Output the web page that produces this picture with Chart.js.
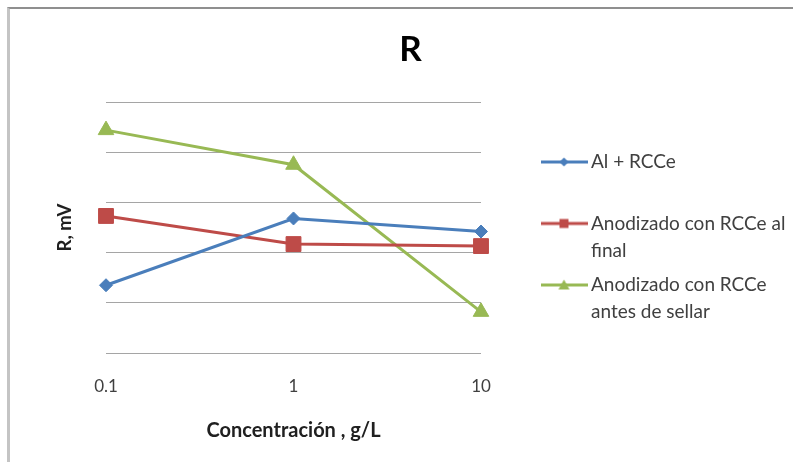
<!DOCTYPE html>
<html><head><meta charset="utf-8">
<script src="https://cdn.jsdelivr.net/npm/chart.js@4"></script>
<style>
html,body{margin:0;padding:0;background:#fff;}
#wrap{position:relative;width:793px;height:462px;overflow:hidden;background:#fff;}
#frame{position:absolute;left:7px;top:7px;width:800px;height:470px;border-top:2px solid #8f8f8f;border-left:3px solid #c4c4c4;pointer-events:none;box-sizing:border-box;}
canvas{display:block}
</style></head><body>
<div id="wrap"><canvas id="c" width="793" height="462"></canvas><div id="frame"></div></div>
<script>
// ---- data ----
const categories = ['0.1', '1', '10'];
const seriesNames = ['Al + RCCe', 'Anodizado con RCCe al final', 'Anodizado con RCCe antes de sellar'];
const legendLabels = [['Al + RCCe', ''], ['Anodizado con RCCe al', 'final'], ['Anodizado con RCCe', 'antes de sellar']];
const alRCCe = [1.35, 2.68, 2.42];
const anodizadoFinal = [2.73, 2.17, 2.13];
const anodizadoAntes = [4.44, 3.75, 0.82];
const chartTitle = 'R';
const xTitle = 'Concentración , g/L';
const yTitle = 'R, mV';

// ---- styles ----
const colors = ['#4a7ebb', '#be4b48', '#98b954'];
const FONT = 'Lato';
const LEG_SIZE = 19, LEG_PAD = 7.5, BOX_W = 35;

function makeIcon(color, kind) {
  const c = document.createElement('canvas'); c.width = 47; c.height = 16;
  const g = c.getContext('2d');
  g.strokeStyle = color; g.lineWidth = 3;
  g.beginPath(); g.moveTo(0, 8); g.lineTo(47, 8); g.stroke();
  g.fillStyle = color; g.beginPath();
  if (kind === 'diamond') { g.moveTo(23.5, 3.5); g.lineTo(28, 8); g.lineTo(23.5, 12.5); g.lineTo(19, 8); }
  else if (kind === 'square') { g.rect(19, 3.5, 9, 9); }
  else { g.moveTo(23.5, 2.5); g.lineTo(29, 12.5); g.lineTo(18, 12.5); }
  g.closePath(); g.fill();
  return c;
}
const icons = [makeIcon(colors[0], 'diamond'), makeIcon(colors[1], 'square'), makeIcon(colors[2], 'triangle')];

// layout computation from measured legend text
const mctx = document.createElement('canvas').getContext('2d');
mctx.font = LEG_SIZE + 'px ' + FONT;
const textW = Math.max(...legendLabels.flat().map(t => mctx.measureText(t).width));
const itemX = 591 - LEG_SIZE / 2 - BOX_W;
const legendLeft = itemX - LEG_PAD;
const legendW = LEG_PAD + BOX_W + LEG_SIZE / 2 + textW + 10;
const padRight = 793 - legendLeft - legendW;
const padLeft = 2 * 410.5 - 793 + padRight;
const yAxisW = 106 - padLeft;
const y2W = legendLeft - 481;
const legendTitlePad = 162 - 102 - LEG_PAD - LEG_SIZE / 2 - 14.4;

new Chart(document.getElementById('c'), {
  type: 'line',
  data: {
    labels: categories,
    datasets: [
      { label: seriesNames[0], data: alRCCe, borderColor: colors[0], backgroundColor: colors[0], borderWidth: 3, pointStyle: 'rectRot', pointRadius: 6.5, pointBorderWidth: 1, tension: 0, clip: false },
      { label: seriesNames[1], data: anodizadoFinal, borderColor: colors[1], backgroundColor: colors[1], borderWidth: 3, pointStyle: 'rect', pointRadius: 10.5, pointBorderWidth: 1, tension: 0, clip: false },
      { label: seriesNames[2], data: anodizadoAntes, borderColor: colors[2], backgroundColor: colors[2], borderWidth: 3, pointStyle: 'triangle', pointRadius: 9, pointBorderWidth: 1, tension: 0, clip: false }
    ]
  },
  options: {
    responsive: false,
    animation: false,
    layout: { padding: { left: padLeft, right: padRight, top: 8, bottom: 0 } },
    plugins: {
      title: { display: true, text: chartTitle, color: '#000', font: { family: FONT, size: 35, weight: 'bold', lineHeight: 1.2 }, padding: { top: 21, bottom: 31 } },
      legend: {
        position: 'right', align: 'start', fullSize: false, maxWidth: 700,
        title: { display: true, text: '', padding: { top: legendTitlePad, bottom: 0 }, font: { size: 12, lineHeight: 1.2 } },
        labels: {
          usePointStyle: true, pointStyleWidth: BOX_W, padding: LEG_PAD,
          font: { family: FONT, size: LEG_SIZE, lineHeight: '27px' }, color: '#404040',
          generateLabels: (chart) => chart.data.datasets.map((ds, i) => ({
            text: legendLabels[i], fillStyle: ds.backgroundColor, strokeStyle: ds.borderColor,
            lineWidth: 0, pointStyle: icons[i], datasetIndex: i, fontColor: '#404040', hidden: false
          }))
        }
      },
      tooltip: { enabled: false }
    },
    scales: {
      x: {
        offset: false,
        grid: { display: false, drawTicks: false }, border: { display: false },
        ticks: { color: '#404040', padding: 23.8, font: { family: FONT, size: 17 } },
        title: { display: true, text: xTitle, color: '#202020', font: { family: FONT, size: 20, weight: 'bold', lineHeight: 1.2 }, padding: { top: 0, bottom: 19.3 } },
        afterFit: (s) => { s.height = 109; }
      },
      y: {
        min: 0, max: 5,
        grid: { color: '#a5a5a5', lineWidth: 1, drawTicks: false }, border: { display: false },
        ticks: { display: false, stepSize: 1 },
        title: { display: true, text: yTitle, color: '#202020', font: { family: FONT, size: 18.5, weight: 'bold', lineHeight: 1.2 }, padding: { top: 65 - padLeft - 11.1, bottom: 0 } },
        afterFit: (s) => { s.width = yAxisW; }
      },
      y2: {
        position: 'right', display: true,
        grid: { display: false, drawTicks: false }, border: { display: false },
        ticks: { display: false },
        afterFit: (s) => { s.width = y2W; }
      }
    }
  }
});
</script>
</body></html>
